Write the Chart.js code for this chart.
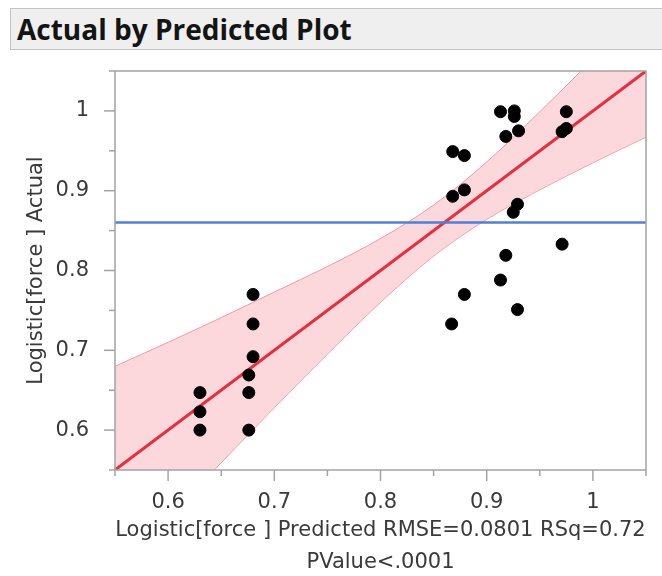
<!DOCTYPE html>
<html>
<head>
<meta charset="utf-8">
<script src="https://cdn.jsdelivr.net/npm/chart.js@4/dist/chart.umd.min.js"></script>
<style>
  body { margin: 0; background: #fff; overflow: hidden; }
  #wrap { position: relative; width: 662px; height: 576px; }
  #hdr {
    position: absolute; left: 10px; top: 8px; width: 680px; height: 42px;
    background: #efefef; border: 1px solid #c4c4c4; box-sizing: border-box;
    font: bold 28px "Open Sans", sans-serif; color: #141414;
    line-height: 40px; padding-left: 6px;
  }
  canvas { position: absolute; left: 0; top: 0; }
</style>
</head>
<body>
<div id="wrap">
  <canvas id="myChart" width="662" height="576"></canvas>
  <div id="hdr">Actual by Predicted Plot</div>
</div>
<script>
  // observed points
  const predicted = [0.913, 0.926, 0.926, 0.975, 0.918, 0.930, 0.971, 0.975,
    0.868, 0.879, 0.879, 0.868, 0.929, 0.925, 0.971, 0.918, 0.913, 0.879,
    0.929, 0.867, 0.680, 0.680, 0.680, 0.676, 0.676, 0.676, 0.630, 0.630, 0.630];
  const actual = [0.999, 1.0, 0.993, 0.999, 0.968, 0.975, 0.974, 0.978,
    0.949, 0.944, 0.901, 0.893, 0.883, 0.873, 0.833, 0.819, 0.788, 0.770,
    0.751, 0.733, 0.770, 0.733, 0.692, 0.669, 0.647, 0.600, 0.647, 0.623, 0.600];

  // fitted line and mean of actual
  const fitX = [0.55, 1.05];
  const fitY = [0.55, 1.05];
  const meanY = 0.86;

  // confidence band of the fit
  const bandX = [0.55, 0.60, 0.65, 0.70, 0.75, 0.80, 0.85, 0.90, 0.95, 1.00, 1.05];
  const bandUpper = [0.680, 0.710, 0.741, 0.773, 0.805, 0.840, 0.882, 0.936, 0.999, 1.065, 1.134];
  const bandLower = [0.420, 0.490, 0.559, 0.628, 0.695, 0.760, 0.818, 0.864, 0.901, 0.935, 0.967];

  // axis ticks
  const tickValues = [0.55, 0.6, 0.65, 0.7, 0.75, 0.8, 0.85, 0.9, 0.95, 1.0, 1.05];
  const tickLabels = ["", "0.6", "", "0.7", "", "0.8", "", "0.9", "", "1", ""];

  const xTitle = ["Logistic[force ] Predicted RMSE=0.0801 RSq=0.72", "PValue<.0001"];
  const yTitle = "Logistic[force ] Actual";

  const pair = (xs, ys) => xs.map((x, i) => ({ x: x, y: ys[i] }));

  // frame and tick marks
  const frame = {
    id: "frame",
    afterDraw(chart) {
      const { ctx, chartArea: a, scales } = chart;
      ctx.save();
      ctx.strokeStyle = "#a3a3a3";
      ctx.lineWidth = 1.5;
      ctx.strokeRect(a.left, a.top, a.right - a.left, a.bottom - a.top);
      tickValues.forEach((v, i) => {
        const len = tickLabels[i] ? 11 : 6;
        const px = scales.x.getPixelForValue(v);
        ctx.beginPath();
        ctx.moveTo(px, a.bottom);
        ctx.lineTo(px, a.bottom + len);
        ctx.stroke();
        const py = scales.y.getPixelForValue(v);
        ctx.beginPath();
        ctx.moveTo(a.left, py);
        ctx.lineTo(a.left - len, py);
        ctx.stroke();
      });
      ctx.restore();
    },
  };

  Chart.defaults.font.family = "'DejaVu Sans', sans-serif";
  Chart.defaults.color = "#3a3a3a";

  const ctx = document.getElementById("myChart").getContext("2d");
  const myChart = new Chart(ctx, {
    type: "scatter",
    data: {
      datasets: [
        {
          data: pair(predicted, actual),
          backgroundColor: "#000",
          borderColor: "#000",
          pointRadius: 6,
          pointHoverRadius: 6,
        },
        {
          type: "line",
          data: pair(fitX, [meanY, meanY]),
          borderColor: "#4f7fd6",
          borderWidth: 2.5,
          pointRadius: 0,
        },
        {
          type: "line",
          data: pair(fitX, fitY),
          borderColor: "#e2323f",
          borderWidth: 3,
          pointRadius: 0,
        },
        {
          type: "line",
          data: pair(bandX, bandUpper),
          borderColor: "#f09aa5",
          borderWidth: 1,
          backgroundColor: "rgba(250, 188, 197, 0.58)",
          fill: "+1",
          cubicInterpolationMode: "monotone",
          pointRadius: 0,
        },
        {
          type: "line",
          data: pair(bandX, bandLower),
          borderColor: "#f09aa5",
          borderWidth: 1,
          cubicInterpolationMode: "monotone",
          pointRadius: 0,
        },
      ],
    },
    options: {
      responsive: false,
      animation: false,
      layout: { padding: { top: 71, right: 16, left: 0, bottom: 0 } },
      plugins: { legend: { display: false }, tooltip: { enabled: false } },
      scales: {
        x: {
          type: "linear",
          min: 0.55,
          max: 1.05,
          grid: { display: false },
          border: { display: false },
          afterBuildTicks: (s) => { s.ticks = tickValues.map((v) => ({ value: v })); },
          afterFit: (s) => { s.height = 106; },
          ticks: {
            autoSkip: false,
            maxRotation: 0,
            padding: 12,
            font: { size: 21 },
            callback: (v, i) => tickLabels[i],
          },
          title: {
            display: true,
            text: xTitle,
            font: { size: 21, lineHeight: "32px" },
            padding: { top: 0, bottom: -3 },
          },
        },
        y: {
          type: "linear",
          min: 0.55,
          max: 1.05,
          grid: { display: false },
          border: { display: false },
          afterBuildTicks: (s) => { s.ticks = tickValues.map((v) => ({ value: v })); },
          afterFit: (s) => { s.width = 115; },
          ticks: {
            autoSkip: false,
            padding: 18,
            font: { size: 21 },
            callback: (v, i) => tickLabels[i],
          },
          title: {
            display: true,
            text: yTitle,
            font: { size: 21 },
            padding: { top: 24, bottom: 0 },
          },
        },
      },
    },
    plugins: [frame],
  });
</script>
</body>
</html>
